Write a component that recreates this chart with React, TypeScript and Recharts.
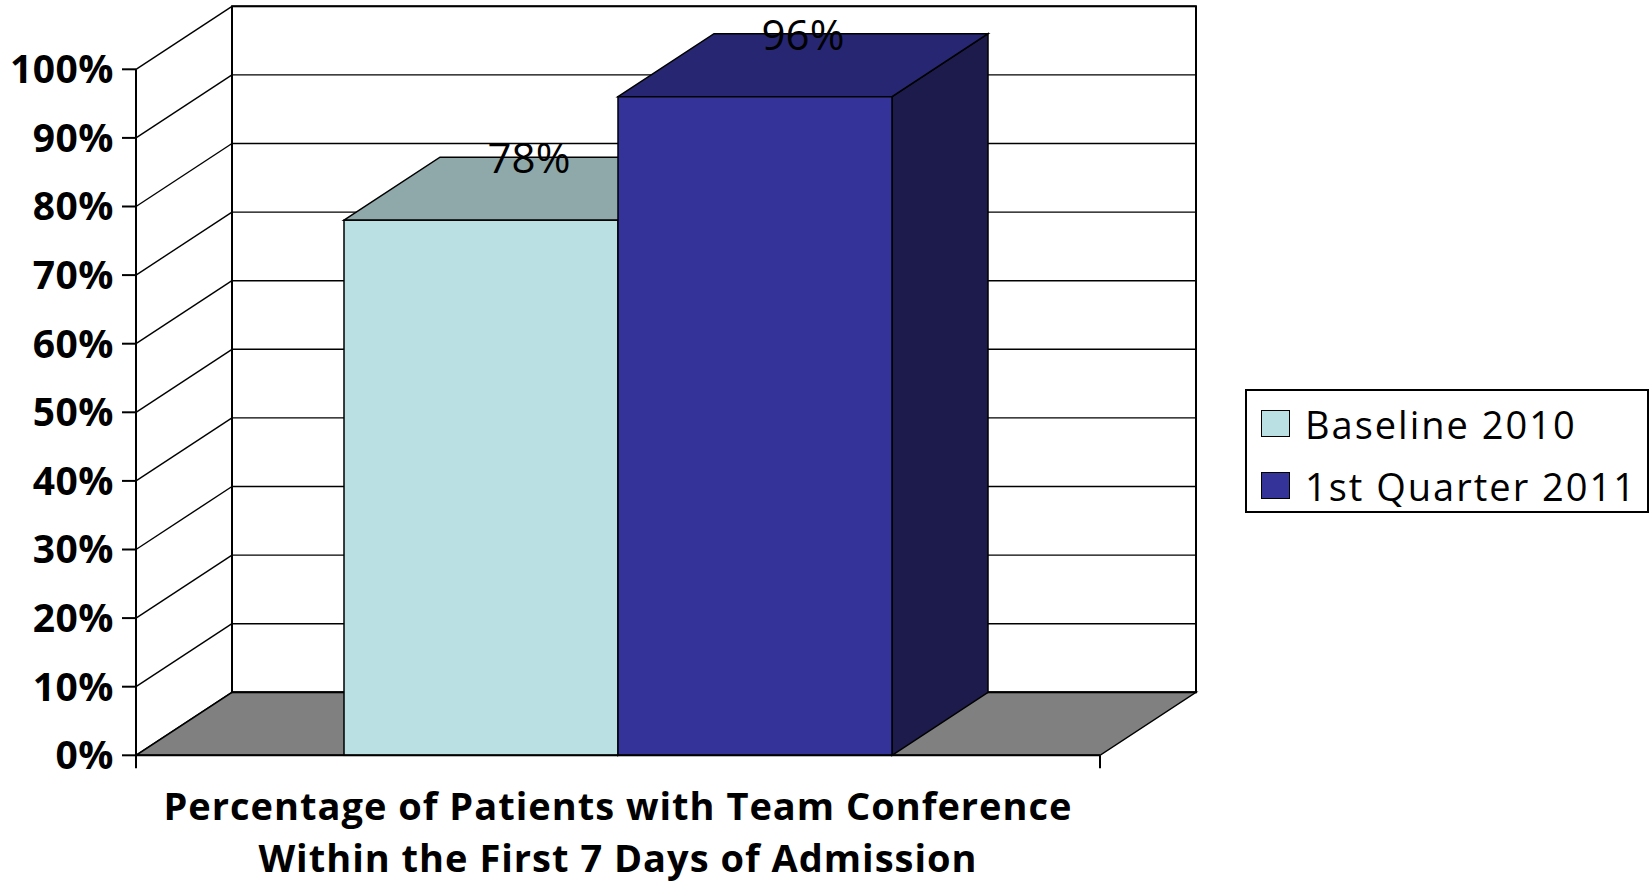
import { BarChart, Bar, XAxis, YAxis, CartesianGrid, Legend, LabelList, ReferenceArea } from "recharts";

const categories = ["Percentage of Patients with Team Conference|Within the First 7 Days of Admission"];
const baseline2010 = [78];
const quarter2011 = [96];
const yTicks = [0, 10, 20, 30, 40, 50, 60, 70, 80, 90, 100];

const data = categories.map((name, i) => ({ name, baseline: baseline2010[i], q1: quarter2011[i] }));

const FONT = "'Open Sans', sans-serif";
// depth of the fake 3d box
const DX = 96;
const DY = 63;

const series = [
  { key: "baseline", name: "Baseline 2010", front: "#BAE0E3", top: "#8FA8AA", side: "#7FA0A3" },
  { key: "q1", name: "1st Quarter 2011", front: "#333399", top: "#262673", side: "#1C1B4C" },
];

function Box3D(props: any) {
  const { x, y, width: w, height: h, colors } = props;
  if (w == null || h == null) return null;
  const top = `${x},${y} ${x + DX},${y - DY} ${x + w + DX},${y - DY} ${x + w},${y}`;
  const side = `${x + w},${y} ${x + w + DX},${y - DY} ${x + w + DX},${y + h - DY} ${x + w},${y + h}`;
  return (
    <g>
      <polygon points={side} fill={colors.side} stroke="#000" strokeWidth={1.5} />
      <polygon points={top} fill={colors.top} stroke="#000" strokeWidth={1.5} />
      <rect x={x} y={y} width={w} height={h} fill={colors.front} stroke="#000" strokeWidth={1.5} />
    </g>
  );
}

function GridLine(props: any) {
  const { x1, x2, y1 } = props;
  return (
    <g>
      <line x1={x1} y1={y1} x2={x1 + DX} y2={y1 - DY} stroke="#000" strokeWidth={1.4} />
      <line x1={x1 + DX} y1={y1 - DY} x2={x2 + DX} y2={y1 - DY} stroke="#000" strokeWidth={1.4} />
    </g>
  );
}

function Walls(props: any) {
  const { x, y, width: w, height: h } = props;
  const b = y + h;
  return (
    <g>
      <polygon
        points={`${x},${b} ${x + w},${b} ${x + w + DX},${b - DY} ${x + DX},${b - DY}`}
        fill="#808080"
        stroke="#000"
        strokeWidth={1.5}
      />
      <rect x={x + DX} y={y - DY} width={w} height={h} fill="none" stroke="#000" strokeWidth={2} />
      <line x1={x} y1={b} x2={x} y2={b + 13} stroke="#000" strokeWidth={2} />
      <line x1={x + w} y1={b} x2={x + w} y2={b + 13} stroke="#000" strokeWidth={2} />
    </g>
  );
}

function CategoryTick(props: any) {
  const { x, y, payload } = props;
  const lines = String(payload.value).split("|");
  return (
    <text
      x={x}
      y={y}
      textAnchor="middle"
      fontFamily={FONT}
      fontWeight={700}
      fontSize={38}
      letterSpacing={1}
      fill="#000"
    >
      {lines.map((l, i) => (
        <tspan key={i} x={x} dy={i === 0 ? 65 : 52}>
          {l}
        </tspan>
      ))}
    </text>
  );
}

function ValueLabel(props: any) {
  const { x, y, width, value } = props;
  return (
    <text x={x + width / 2 + DX / 2} y={y - DY + 16} textAnchor="middle" fontFamily={FONT} fontSize={42} fill="#000">
      {value}%
    </text>
  );
}

function LegendBox(props: any) {
  const { payload = [] } = props;
  const items = series
    .map((s) => payload.find((e: any) => e.value === s.name))
    .filter(Boolean);
  return (
    <div
      style={{
        position: "relative",
        width: 404,
        height: 124,
        boxSizing: "border-box",
        border: "2px solid #000",
        background: "#fff",
        fontFamily: FONT,
      }}
    >
      {items.map((entry: any, i: number) => (
        <div key={i}>
          <div
            style={{
              position: "absolute",
              left: 14,
              top: 19 + i * 62,
              width: 29,
              height: 27,
              boxSizing: "border-box",
              border: "1px solid #000",
              background: entry.color,
            }}
          />
          <div
            style={{
              position: "absolute",
              left: 58,
              top: 14 + i * 62,
              fontSize: 38,
              lineHeight: "38px",
              letterSpacing: 2,
              whiteSpace: "nowrap",
              color: "#000",
            }}
          >
            {entry.value}
          </div>
        </div>
      ))}
    </div>
  );
}

export default function App() {
  return (
    <div style={{ position: "absolute", left: 0, top: 0, background: "#fff" }}>
      <BarChart
        width={1652}
        height={886}
        data={data}
        margin={{ top: 69.3, right: 148, bottom: 0, left: 0 }}
        barGap={0}
        barSize={274}
      >
        <CartesianGrid horizontal={(p: any) => <GridLine {...p} />} vertical={false} />
        <ReferenceArea y1={0} y2={100} shape={(p: any) => <Walls {...p} />} />
        <XAxis
          dataKey="name"
          interval={0}
          height={130.7}
          tickLine={false}
          tickSize={0}
          tickMargin={0}
          axisLine={{ stroke: "#000", strokeWidth: 2 }}
          tick={(p: any) => <CategoryTick {...p} />}
        />
        <YAxis
          width={136}
          domain={[0, 100]}
          ticks={yTicks}
          interval={0}
          tickFormatter={(v: number) => `${v}%`}
          tickSize={14}
          tickMargin={8}
          tickLine={{ stroke: "#000", strokeWidth: 2 }}
          axisLine={{ stroke: "#000", strokeWidth: 2 }}
          tick={{ fill: "#000", fontSize: 39, fontWeight: 700, fontFamily: FONT, letterSpacing: 0.5 }}
        />
        <Legend
          layout="horizontal"
          verticalAlign="middle"
          align="right"
          wrapperStyle={{ left: 1245, top: 389, right: "auto", width: 404 }}
          content={(p: any) => <LegendBox {...p} />}
        />
        {series.map((s) => (
          <Bar
            key={s.key}
            dataKey={s.key}
            name={s.name}
            fill={s.front}
            isAnimationActive={false}
            shape={(p: any) => <Box3D {...p} colors={s} />}
          >
            <LabelList dataKey={s.key} content={(p: any) => <ValueLabel {...p} />} />
          </Bar>
        ))}
      </BarChart>
    </div>
  );
}
